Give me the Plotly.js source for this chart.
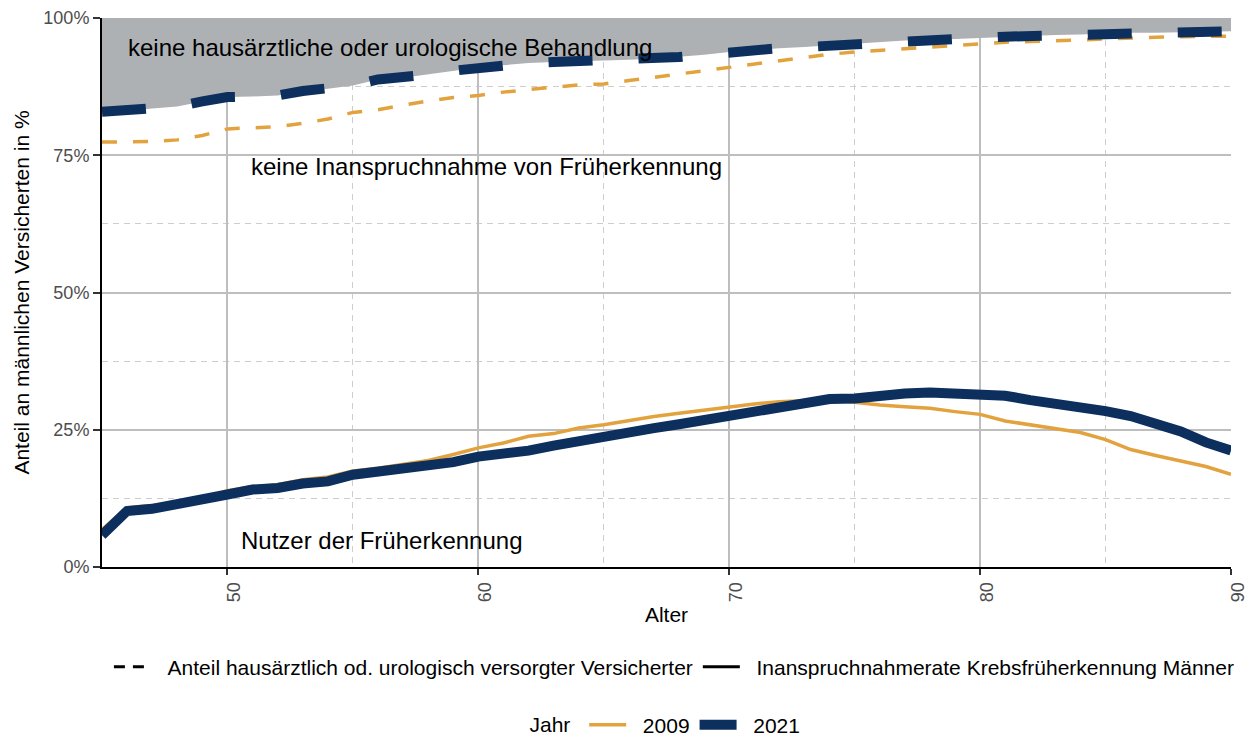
<!DOCTYPE html>
<html>
<head>
<meta charset="utf-8">
<script src="https://cdn.plot.ly/plotly-3.0.1.min.js"></script>
<style>
  html, body { margin: 0; padding: 0; background: #ffffff; }
  #chart { width: 1257px; height: 737px; }
</style>
</head>
<body>
<div id="chart"></div>
<script>
// Age (years)
const ages = [45,46,47,48,49,50,51,52,53,54,55,56,57,58,59,60,61,62,63,64,65,66,67,68,69,
              70,71,72,73,74,75,76,77,78,79,80,81,82,83,84,85,86,87,88,89,90];

// Anteil hausärztlich od. urologisch versorgter Versicherter (%)
const versorgt2009 = [77.4,77.4,77.5,77.8,78.6,79.8,80.0,80.2,80.8,81.6,82.8,83.3,84.1,84.9,85.5,
                      85.9,86.5,87.0,87.4,87.8,88.0,88.6,89.2,89.7,90.3,91.0,91.6,92.2,92.8,93.4,
                      93.8,94.1,94.4,94.7,95.0,95.4,95.6,95.7,95.8,96.0,96.2,96.4,96.5,96.6,96.7,96.7];
const versorgt2021 = [82.9,83.1,83.5,83.9,84.8,85.6,85.7,85.9,86.7,87.1,87.7,88.8,89.1,89.7,90.4,
                      91.0,91.4,91.8,92.0,92.1,92.3,92.4,92.6,92.9,93.3,93.8,94.2,94.5,94.7,95.0,
                      95.2,95.6,95.9,96.0,96.2,96.4,96.6,96.7,96.9,97.0,97.2,97.3,97.3,97.4,97.4,97.6];

// Inanspruchnahmerate Krebsfrüherkennung Männer (%)
const rate2009 = [6.8,10.8,11.2,11.9,12.5,13.9,14.6,15.0,15.9,16.4,17.5,18.0,18.7,19.4,20.5,
                  21.7,22.6,23.8,24.3,25.3,25.9,26.7,27.4,28.0,28.6,29.1,29.7,30.1,30.3,30.5,
                  30.0,29.5,29.2,28.9,28.3,27.8,26.6,25.9,25.2,24.5,23.2,21.4,20.3,19.3,18.3,16.9];
const rate2021 = [5.8,10.2,10.6,11.4,12.0,13.2,14.1,14.4,15.2,15.6,16.8,17.4,17.6,18.4,19.1,
                  20.1,20.5,21.2,22.1,22.9,23.9,24.9,25.3,26.0,26.8,27.5,28.2,28.9,29.8,30.6,
                  30.7,31.3,31.6,31.8,31.6,31.6,31.2,30.4,29.8,29.2,28.4,27.5,26.0,24.7,22.7,21.2];

// Upper edge of the grey area (100 %)
const ribbonTopX = [45, 90];
const ribbonTopY = [100, 100];

// Labels
const years = ["2009", "2021"];
const typeLabels = ["Anteil hausärztlich od. urologisch versorgter Versicherter",
                    "Inanspruchnahmerate Krebsfrüherkennung Männer"];
const areaLabels = ["keine hausärztliche oder urologische Behandlung",
                    "keine Inanspruchnahme von Früherkennung",
                    "Nutzer der Früherkennung"];
const xTicks = [50, 60, 70, 80, 90];
const xTickText = ["50", "60", "70", "80", "90"];
const yTicks = [0, 25, 50, 75, 100];
const yTickText = ["0%", "25%", "50%", "75%", "100%"];

const ORANGE = "#e2a33e";
const NAVY = "#0c2f5e";
const GREY = "#aeb1b4";
const FONT = "Liberation Sans, Arial, sans-serif";
const PAD = "\u00a0\u00a0";  // gap between legend key and label

const traces = [
  { x: ribbonTopX, y: ribbonTopY, mode: "lines", line: {width: 0, color: GREY},
    showlegend: false, hoverinfo: "skip" },
  { x: ages, y: versorgt2021, mode: "lines", line: {width: 0, color: GREY},
    fill: "tonexty", fillcolor: GREY, showlegend: false, hoverinfo: "skip" },
  { x: ages, y: versorgt2009, mode: "lines", line: {color: ORANGE, width: 3.5, dash: "15px,16px"},
    showlegend: false },
  { x: ages, y: versorgt2021, mode: "lines", line: {color: NAVY, width: 10, dash: "44px,46px"},
    showlegend: false },
  { x: ages, y: rate2009, mode: "lines", line: {color: ORANGE, width: 3.5},
    showlegend: false },
  { x: ages, y: rate2021, mode: "lines", line: {color: NAVY, width: 10},
    showlegend: false },
  // legend entries
  { x: [null], y: [null], mode: "lines", name: PAD + typeLabels[0], legend: "legend",
    line: {color: "#000000", width: 3, dash: "11px,8px"} },
  { x: [null], y: [null], mode: "lines", name: PAD + typeLabels[1], legend: "legend",
    line: {color: "#000000", width: 3} },
  { x: [null], y: [null], mode: "lines", name: PAD + years[0], legend: "legend2",
    line: {color: ORANGE, width: 3.5} },
  { x: [null], y: [null], mode: "lines", name: PAD + years[1], legend: "legend2",
    line: {color: NAVY, width: 10} }
];

const layout = {
  width: 1257, height: 737,
  margin: {l: 102, r: 26, t: 17.5, b: 169.5},
  paper_bgcolor: "#ffffff", plot_bgcolor: "#ffffff",
  font: {family: FONT, color: "#000000"},
  xaxis: {
    range: [45, 90], tickvals: xTicks, ticktext: xTickText, tickangle: -90, ticklabelshift: 7,
    showgrid: true, gridcolor: "#bebebe", gridwidth: 2,
    minor: {tickvals: [55, 65, 75, 85], showgrid: true, gridcolor: "#cdcdcd", gridwidth: 1, griddash: "6px,5px", ticks: ""},
    showline: true, linecolor: "#000000", linewidth: 2, zeroline: false,
    ticks: "outside", ticklen: 6, tickwidth: 2, tickcolor: "#333333",
    tickfont: {size: 18, color: "#4d4d4d", family: FONT},
    title: {text: "Alter", font: {size: 21, color: "#000000", family: FONT}, standoff: 6}
  },
  yaxis: {
    range: [0, 100], tickvals: yTicks, ticktext: yTickText,
    showgrid: true, gridcolor: "#bebebe", gridwidth: 2,
    minor: {tickvals: [12.5, 37.5, 62.5, 87.5], showgrid: true, gridcolor: "#cdcdcd", gridwidth: 1, griddash: "6px,5px", ticks: ""},
    showline: true, linecolor: "#000000", linewidth: 2, zeroline: false,
    ticks: "outside", ticklen: 7, tickwidth: 2, tickcolor: "#333333",
    tickfont: {size: 18, color: "#4d4d4d", family: FONT},
    title: {text: "Anteil an männlichen Versicherten in %", font: {size: 21, color: "#000000", family: FONT}, standoff: 8}
  },
  annotations: [
    { x: 56.46, y: 94.6, xref: "x", yref: "y", text: areaLabels[0], showarrow: false,
      xanchor: "center", yanchor: "middle", font: {size: 24, color: "#000000", family: FONT} },
    { x: 60.31, y: 73.0, xref: "x", yref: "y", text: areaLabels[1], showarrow: false,
      xanchor: "center", yanchor: "middle", font: {size: 24, color: "#000000", family: FONT} },
    { x: 56.15, y: 4.9, xref: "x", yref: "y", text: areaLabels[2], showarrow: false,
      xanchor: "center", yanchor: "middle", font: {size: 24, color: "#000000", family: FONT} }
  ],
  legend: {
    orientation: "h", x: 0.507, xanchor: "center", yref: "container", y: 0.095, yanchor: "middle",
    traceorder: "normal", itemwidth: 37,
    font: {size: 21, color: "#000000", family: FONT}, bgcolor: "rgba(0,0,0,0)"
  },
  legend2: {
    orientation: "h", x: 0.5, xanchor: "center", yref: "container", y: 0.016, yanchor: "middle",
    traceorder: "normal", itemwidth: 37,
    title: {text: "Jahr\u00a0", side: "left", font: {size: 21, color: "#000000", family: FONT}},
    font: {size: 21, color: "#000000", family: FONT}, bgcolor: "rgba(0,0,0,0)"
  },
  showlegend: true
};

Plotly.newPlot("chart", traces, layout, {displayModeBar: false, staticPlot: true});
</script>
</body>
</html>
